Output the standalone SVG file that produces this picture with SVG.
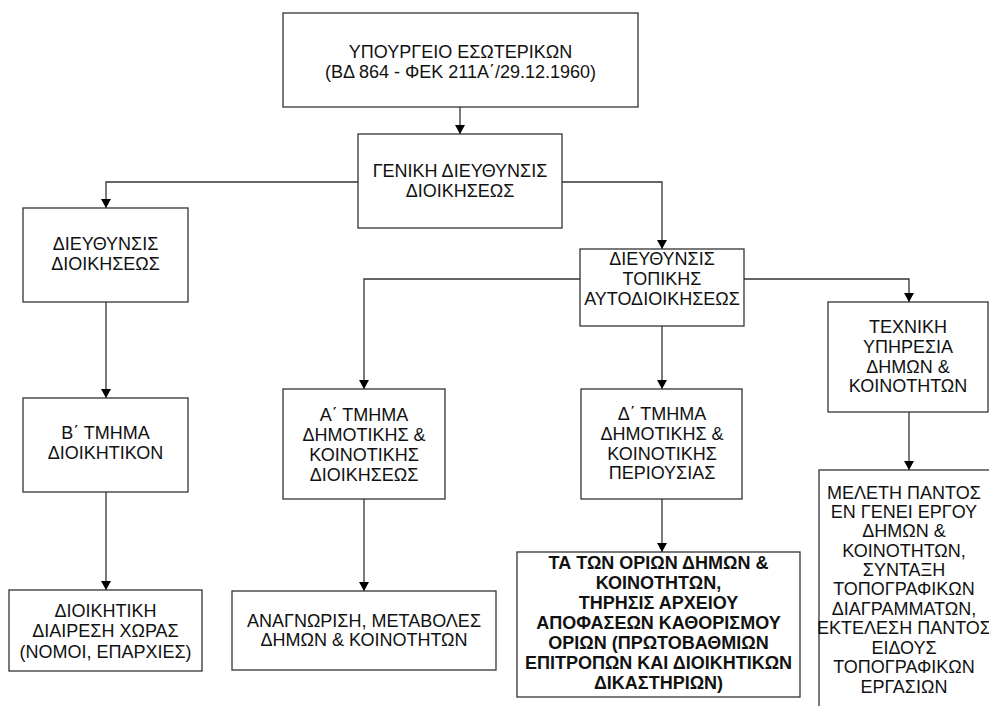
<svg xmlns="http://www.w3.org/2000/svg" width="989" height="706" viewBox="0 0 989 706">
<defs>
<marker id="ah" markerUnits="userSpaceOnUse" markerWidth="10" markerHeight="11" refX="9" refY="5" orient="auto">
<path d="M0,0 L9,5 L0,10 Z" fill="#000"/>
</marker>
<style>
.box{fill:#fff;stroke:#333;stroke-width:1.3}
.t{font-family:"Liberation Sans",Arial,sans-serif;font-size:18px;fill:#111;text-anchor:middle}
.b{font-weight:bold}
.c{fill:none;stroke:#333;stroke-width:1.3;marker-end:url(#ah)}
</style>
</defs>
<rect width="989" height="706" fill="#fff"/>
<g id="connectors">
<path class="c" d="M460,107 V134"/>
<path class="c" d="M358,182 H106 V208"/>
<path class="c" d="M562,182 H662 V249"/>
<path class="c" d="M580,279 H364 V389"/>
<path class="c" d="M744,279 H909 V302"/>
<path class="c" d="M662,326 V389"/>
<path class="c" d="M106,302 V398"/>
<path class="c" d="M106,492 V590"/>
<path class="c" d="M364,499 V591"/>
<path class="c" d="M662,499 V552"/>
<path class="c" d="M909,412 V470"/>
</g>
<g id="n1">
<rect class="box" x="283" y="13" width="355" height="94"/>
<text class="t" x="460.5" y="58">ΥΠΟΥΡΓΕΙΟ ΕΣΩΤΕΡΙΚΩΝ</text>
<text class="t" x="460.5" y="78">(ΒΔ  864 - ΦΕΚ 211Α΄/29.12.1960)</text>
</g>
<g id="n2">
<rect class="box" x="358" y="134" width="204" height="94"/>
<text class="t" x="460" y="177">ΓΕΝΙΚΗ ΔΙΕΥΘΥΝΣΙΣ</text>
<text class="t" x="460" y="197">ΔΙΟΙΚΗΣΕΩΣ</text>
</g>
<g id="n3">
<rect class="box" x="23" y="208" width="165" height="94"/>
<text class="t" x="105.5" y="250">ΔΙΕΥΘΥΝΣΙΣ</text>
<text class="t" x="105.5" y="270">ΔΙΟΙΚΗΣΕΩΣ</text>
</g>
<g id="n4">
<rect class="box" x="580" y="249" width="164" height="77"/>
<text class="t" x="662" y="265">ΔΙΕΥΘΥΝΣΙΣ</text>
<text class="t" x="662" y="285">ΤΟΠΙΚΗΣ</text>
<text class="t" x="662" y="305">ΑΥΤΟΔΙΟΙΚΗΣΕΩΣ</text>
</g>
<g id="n5">
<rect class="box" x="828" y="302" width="160" height="110"/>
<text class="t" x="908" y="333">ΤΕΧΝΙΚΗ</text>
<text class="t" x="908" y="353">ΥΠΗΡΕΣΙΑ</text>
<text class="t" x="908" y="373">ΔΗΜΩΝ &amp;</text>
<text class="t" x="908" y="392">ΚΟΙΝΟΤΗΤΩΝ</text>
</g>
<g id="n6">
<rect class="box" x="283" y="389" width="162" height="110"/>
<text class="t" x="364" y="421">Α΄ ΤΜΗΜΑ</text>
<text class="t" x="364" y="441">ΔΗΜΟΤΙΚΗΣ &amp;</text>
<text class="t" x="364" y="461">ΚΟΙΝΟΤΙΚΗΣ</text>
<text class="t" x="364" y="481">ΔΙΟΙΚΗΣΕΩΣ</text>
</g>
<g id="n7">
<rect class="box" x="581" y="389" width="161" height="110"/>
<text class="t" x="662" y="420">Δ΄ ΤΜΗΜΑ</text>
<text class="t" x="662" y="440">ΔΗΜΟΤΙΚΗΣ &amp;</text>
<text class="t" x="662" y="460">ΚΟΙΝΟΤΙΚΗΣ</text>
<text class="t" x="662" y="479">ΠΕΡΙΟΥΣΙΑΣ</text>
</g>
<g id="n8">
<rect class="box" x="23" y="398" width="165" height="94"/>
<text class="t" x="105.5" y="439">Β΄ ΤΜΗΜΑ</text>
<text class="t" x="105.5" y="459">ΔΙΟΙΚΗΤΙΚΟΝ</text>
</g>
<g id="n9">
<rect class="box" x="9" y="590" width="193" height="81"/>
<text class="t" x="105.5" y="617">ΔΙΟΙΚΗΤΙΚΗ</text>
<text class="t" x="105.5" y="637">ΔΙΑΙΡΕΣΗ ΧΩΡΑΣ</text>
<text class="t" x="105.5" y="658">(ΝΟΜΟΙ, ΕΠΑΡΧΙΕΣ)</text>
</g>
<g id="n10">
<rect class="box" x="232" y="591" width="264" height="79"/>
<text class="t" x="364" y="627">ΑΝΑΓΝΩΡΙΣΗ, ΜΕΤΑΒΟΛΕΣ</text>
<text class="t" x="364" y="646">ΔΗΜΩΝ &amp; ΚΟΙΝΟΤΗΤΩΝ</text>
</g>
<g id="n11">
<rect class="box" x="517" y="552" width="283" height="145"/>
<text class="t b" x="658.5" y="569">ΤΑ ΤΩΝ ΟΡΙΩΝ ΔΗΜΩΝ &amp;</text>
<text class="t b" x="658.5" y="589">ΚΟΙΝΟΤΗΤΩΝ,</text>
<text class="t b" x="658.5" y="609">ΤΗΡΗΣΙΣ ΑΡΧΕΙΟΥ</text>
<text class="t b" x="658.5" y="629">ΑΠΟΦΑΣΕΩΝ ΚΑΘΟΡΙΣΜΟΥ</text>
<text class="t b" x="658.5" y="649">ΟΡΙΩΝ  (ΠΡΩΤΟΒΑΘΜΙΩΝ</text>
<text class="t b" x="658.5" y="669">ΕΠΙΤΡΟΠΩΝ ΚΑΙ ΔΙΟΙΚΗΤΙΚΩΝ</text>
<text class="t b" x="658.5" y="689">ΔΙΚΑΣΤΗΡΙΩΝ)</text>
</g>
<g id="n12">
<rect class="box" x="819" y="470" width="180" height="250"/>
<text class="t" x="904" y="499">ΜΕΛΕΤΗ ΠΑΝΤΟΣ</text>
<text class="t" x="904" y="518">ΕΝ ΓΕΝΕΙ ΕΡΓΟΥ</text>
<text class="t" x="904" y="537">ΔΗΜΩΝ &amp;</text>
<text class="t" x="904" y="557">ΚΟΙΝΟΤΗΤΩΝ,</text>
<text class="t" x="904" y="576">ΣΥΝΤΑΞΗ</text>
<text class="t" x="904" y="595">ΤΟΠΟΓΡΑΦΙΚΩΝ</text>
<text class="t" x="904" y="615">ΔΙΑΓΡΑΜΜΑΤΩΝ,</text>
<text class="t" x="904" y="634">ΕΚΤΕΛΕΣΗ ΠΑΝΤΟΣ</text>
<text class="t" x="904" y="654">ΕΙΔΟΥΣ</text>
<text class="t" x="904" y="673">ΤΟΠΟΓΡΑΦΙΚΩΝ</text>
<text class="t" x="904" y="693">ΕΡΓΑΣΙΩΝ</text>
</g>
</svg>
